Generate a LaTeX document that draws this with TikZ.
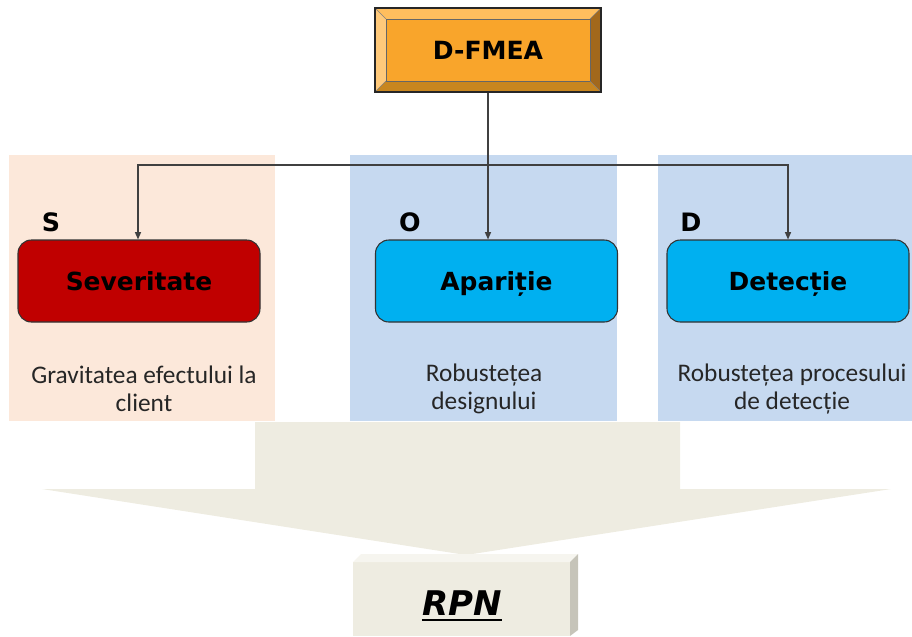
\documentclass[tikz,border=0pt]{standalone}
\usepackage{fontspec}
\setmainfont{Carlito}
\newfontfamily\headfont{DejaVu Sans}
\usetikzlibrary{arrows.meta,calc}

\definecolor{peach}{HTML}{FCE8DA}
\definecolor{panelblue}{HTML}{C6D9F0}
\definecolor{sevred}{HTML}{C00000}
\definecolor{cyanbox}{HTML}{00B0F0}
\definecolor{stone}{HTML}{EEECE1}
\definecolor{stonelight}{HTML}{F6F5EF}
\definecolor{stonedark}{HTML}{C6C4B9}
\definecolor{orangeface}{HTML}{F9A52B}
\definecolor{orangetop}{HTML}{FFBE5E}
\definecolor{orangeleft}{HTML}{FFC97A}
\definecolor{orangeright}{HTML}{A2681C}
\definecolor{orangebottom}{HTML}{C8861F}
\definecolor{wirecol}{HTML}{404040}
\definecolor{textgrey}{HTML}{262626}

\tikzset{
  bevelbox/.style={
    minimum width=169.5pt, minimum height=63pt, inner sep=0pt,
    fill=orangeface, draw=black!85, line width=0.8pt,
    font=\headfont\bfseries\fontsize{18.8}{22}\selectfont,
    path picture={
      \def\bw{8.25pt}
      \path (path picture bounding box.north west) coordinate (oNW)
            (path picture bounding box.north east) coordinate (oNE)
            (path picture bounding box.south west) coordinate (oSW)
            (path picture bounding box.south east) coordinate (oSE);
      \path ([shift={(\bw,-\bw)}]oNW) coordinate (iNW)
            ([shift={(-\bw,-\bw)}]oNE) coordinate (iNE)
            ([shift={(\bw,\bw)}]oSW) coordinate (iSW)
            ([shift={(-\bw,\bw)}]oSE) coordinate (iSE);
      \fill[orangetop] (oNW) -- (oNE) -- (iNE) -- (iNW) -- cycle;
      \fill[orangeleft] (oNW) -- (iNW) -- (iSW) -- (oSW) -- cycle;
      \fill[orangeright] (oNE) -- (oSE) -- (iSE) -- (iNE) -- cycle;
      \fill[orangebottom] (oSW) -- (iSW) -- (iSE) -- (oSE) -- cycle;
      \draw[black!60, line width=0.4pt] (iNW) rectangle (iSE);
      \draw[black!50, line width=0.4pt] (oNW) -- (iNW) (oNE) -- (iNE)
            (oSW) -- (iSW) (oSE) -- (iSE);
    }},
  stagebox/.style={
    rounded corners=10pt, minimum width=181.5pt, minimum height=61.5pt,
    text height=15pt, text depth=1pt,
    draw=black!80, line width=0.8pt,
    font=\headfont\bfseries\fontsize{18.7}{22}\selectfont},
  letter/.style={font=\headfont\bfseries\fontsize{19}{22}\selectfont, inner sep=0pt},
  note/.style={align=center, text=textgrey, inner sep=0pt,
    font=\fontsize{19}{21}\selectfont},
  wire/.style={draw=wirecol, line width=1pt},
  tip/.style={-{Triangle[length=5.5pt,width=4.5pt]}}
}

\begin{document}
\begin{tikzpicture}[x=0.75pt,y=-0.75pt]
\useasboundingbox (0,0) rectangle (912,636);

% background panels behind the three ratings
\fill[peach] (9,155) rectangle (275,421);
\fill[panelblue] (350,155) rectangle (617,421);
\fill[panelblue] (658,155) rectangle (912,421);

% funnel merging the three ratings
\fill[stone] (255,422) -- (680,422) -- (680,489) -- (891,489) -- (466,555)
  -- (42,489) -- (255,489) -- cycle;

% RPN block: front, top and side faces
\fill[stone] (353,562) rectangle (570,636);
\fill[stonelight] (353,562) -- (361,554) -- (578,554) -- (570,562) -- cycle;
\fill[stonedark] (570,562) -- (578,554) -- (578,630) -- (570,636) -- cycle;
\node[inner sep=0pt, anchor=base,
  font=\headfont\bfseries\itshape\fontsize{25.5}{30}\selectfont] (rpn) at (462,615) {RPN};
\draw[line width=1.7pt] ([yshift=-3.5pt]rpn.base west) -- ([yshift=-3.5pt]rpn.base east);

% top-level analysis
\node[bevelbox] (dfmea) at (488,50) {D-FMEA};

% the three ratings
\node[stagebox, fill=sevred] (sev) at (139,281) {Severitate};
\node[stagebox, fill=cyanbox] (apar) at (496.5,281) {Apariție};
\node[stagebox, fill=cyanbox] (det) at (788,281) {Detecție};

\node[letter] (ls) at (51,222) {S};
\node[letter] (lo) at (410,222) {O};
\node[letter] (ld) at (691,222) {D};

\node[note] (ns) at (144,389) {Gravitatea efectului la\\client};
\node[note] (no) at (484,389) {Robustețea\\designului};
\node[note] (nd) at (792,389) {Robustețea procesului\\de detecție};

% distribution lines
\coordinate (bus) at (dfmea.south |- 0,165);
\draw[wire] (dfmea.south) -- (bus);
\draw[wire, tip] (bus) -| (sev.north -| 138,0);
\draw[wire, tip] (bus) -- (bus |- apar.north);
\draw[wire, tip] (bus) -| (det.north);
\end{tikzpicture}
\end{document}
